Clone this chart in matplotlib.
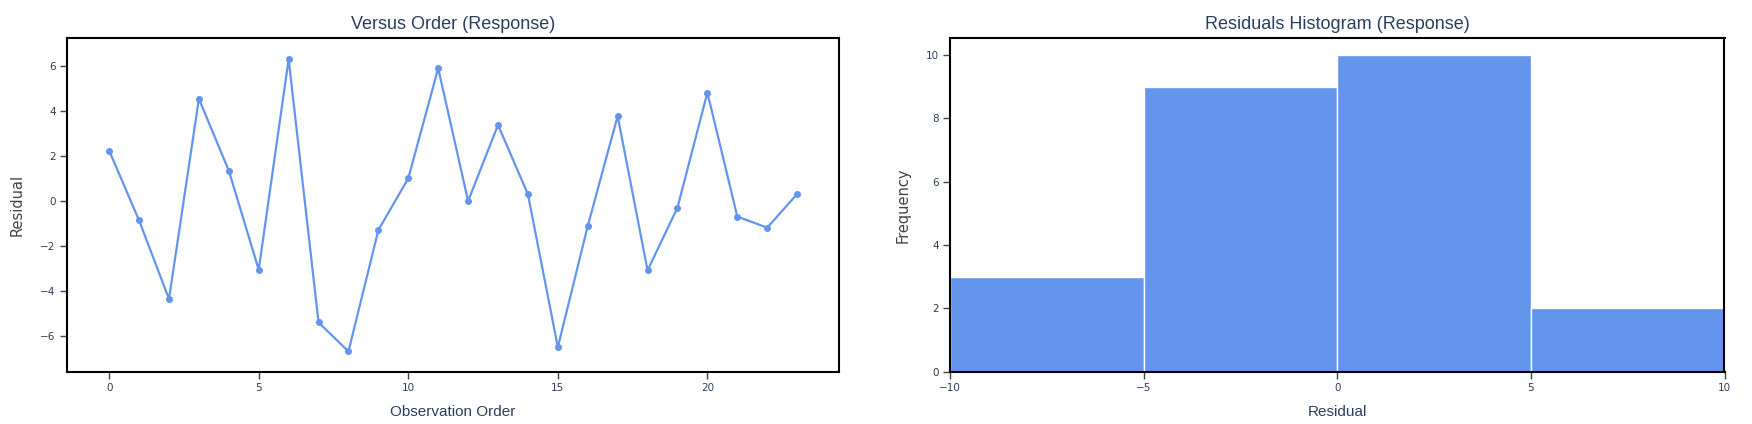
import numpy as np
import matplotlib
matplotlib.use("Agg")
import matplotlib.pyplot as plt

order = list(range(24))
residuals = [2.25, -0.85, -4.34, 4.55, 1.36, -3.04, 6.31, -5.38, -6.67, -1.28,
             1.02, 5.91, 0.01, 3.39, 0.31, -6.48, -1.10, 3.79, -3.07, -0.28,
             4.83, -0.68, -1.17, 0.32]
hist_bins = [-10, -5, 0, 5, 10]

left_title = "Versus Order (Response)"
right_title = "Residuals Histogram (Response)"

blue = "#6495ED"
txt = "#2a3f5f"
W, H = 1752, 424

plt.rcParams["font.family"] = ["Liberation Sans", "DejaVu Sans"]

fig = plt.figure(figsize=(W / 100, H / 100), dpi=100)

def box(x0, x1, y0, y1):
    return [x0 / W, 1 - y1 / H, (x1 - x0) / W, (y1 - y0) / H]

ax1 = fig.add_axes(box(66.7, 839.3, 38.3, 371.7))
ax2 = fig.add_axes(box(950.3, 1724.5, 38.3, 371.7))

ax1.plot(order, residuals, color=blue, lw=1.6, marker="o", ms=4, mec=blue)
ax1.set_xlim(-1.42, 24.41)
ax1.set_ylim(-7.57, 7.24)
ax1.set_xticks([0, 5, 10, 15, 20])
ax1.set_yticks([-6, -4, -2, 0, 2, 4, 6])

counts, edges = np.histogram(residuals, bins=hist_bins)
ax2.bar(edges[:-1], counts, width=np.diff(edges), align="edge",
        color=blue, edgecolor="white", linewidth=1)
ax2.set_xlim(-10, 10)
ax2.set_ylim(0, 10.53)
ax2.set_xticks([-10, -5, 0, 5, 10])
ax2.set_yticks([0, 2, 4, 6, 8, 10])

for ax in (ax1, ax2):
    for s in ax.spines.values():
        s.set_linewidth(1.5)
        s.set_color("black")
    ax.tick_params(direction="out", length=5, width=1, color="#444444",
                   labelsize=7.5, labelcolor=txt, pad=3)
    for lab in ax.get_xticklabels() + ax.get_yticklabels():
        lab.set_family("DejaVu Sans")
    ax.xaxis.set_major_formatter(matplotlib.ticker.FuncFormatter(
        lambda v, p: ("\u2212" if v < 0 else "") + f"{abs(v):g}"))
    ax.yaxis.set_major_formatter(matplotlib.ticker.FuncFormatter(
        lambda v, p: ("\u2212" if v < 0 else "") + f"{abs(v):g}"))

ax1.set_xlabel("Observation Order", fontsize=11, color=txt, va="center")
ax1.xaxis.set_label_coords(0.5, -(412 - 371.7) / 333.4)
ax1.set_ylabel("Residual", fontsize=10.5, color="#444444", va="center",
               family="DejaVu Sans")
ax1.yaxis.set_label_coords(-(66.7 - 17) / 772.6, 0.5)

ax2.set_xlabel("Residual", fontsize=11, color=txt, va="center")
ax2.xaxis.set_label_coords(0.5, -(412 - 371.7) / 333.4)
ax2.set_ylabel("Frequency", fontsize=10.5, color="#444444", va="center",
               family="DejaVu Sans")
ax2.yaxis.set_label_coords(-(950.3 - 902.7) / 774.2, 0.5)

fig.text((66.7 + 839.3) / 2 / W, 1 - 24.5 / H, left_title,
         ha="center", va="center", fontsize=13, color=txt)
fig.text((950.3 + 1724.5) / 2 / W, 1 - 24.5 / H, right_title,
         ha="center", va="center", fontsize=13, color=txt)

fig.savefig("out.png", dpi=100, facecolor="white")
